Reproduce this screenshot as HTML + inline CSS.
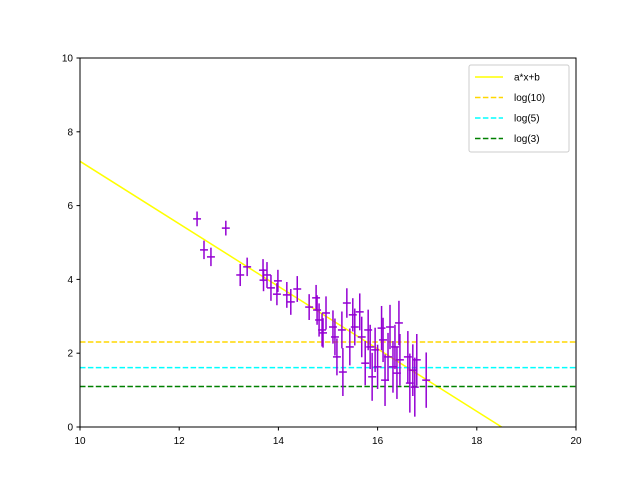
<!DOCTYPE html>
<html><head><meta charset="utf-8"><style>
body{margin:0;background:#fff;}
svg{display:block;font-family:"Liberation Sans","DejaVu Sans",sans-serif;}
</style></head><body>
<svg id="chart" width="640" height="480">
<rect width="640" height="480" fill="#fff"/>
<g id="plot"></g>
</svg>
<script>
const xs=[12.36,12.94,12.5,12.64,13.23,13.37,13.69,13.7,13.77,13.85,13.99,13.97,14.17,14.25,14.38,14.62,14.76,14.78,14.82,14.88,14.9,14.96,15.1,15.14,15.18,15.28,15.3,15.38,15.44,15.5,15.54,15.64,15.68,15.75,15.81,15.85,15.89,15.95,16.0,16.08,16.11,16.15,16.21,16.25,16.31,16.35,16.39,16.43,16.45,16.61,16.65,16.71,16.75,16.79,16.98];
const ys=[5.64,5.39,4.8,4.61,4.12,4.34,4.25,3.98,4.12,3.77,3.96,3.6,3.58,3.39,3.74,3.25,3.5,3.17,2.9,2.63,2.55,3.09,2.71,2.44,1.9,2.63,1.49,3.36,2.17,3.04,2.71,3.12,2.44,1.73,2.63,2.17,1.36,2.09,1.63,2.68,2.36,1.27,1.9,2.71,1.63,2.17,1.46,2.82,1.82,1.9,1.19,1.54,1.08,1.82,1.27];
const yerr=[0.2,0.2,0.25,0.25,0.3,0.25,0.3,0.3,0.35,0.35,0.3,0.3,0.35,0.35,0.35,0.35,0.35,0.4,0.45,0.45,0.4,0.45,0.45,0.5,0.5,0.5,0.65,0.4,0.5,0.45,0.5,0.5,0.55,0.6,0.55,0.6,0.65,0.6,0.6,0.6,0.6,0.7,0.65,0.6,0.7,0.6,0.7,0.6,0.7,0.7,0.8,0.7,0.8,0.7,0.75];
const xerr=0.08;
const a=-0.847, b=15.67;
const hLabels=["log(10)","log(5)","log(3)"];
const hVals=[Math.log(10),Math.log(5),Math.log(3)];
const hColors=["#ffd700","#00ffff","#008000"];
const xTicks=[10,12,14,16,18,20];
const yTicks=[0,2,4,6,8,10];
const L=80,R=576,T=58,B=427;
const X=v=>L+(v-10)/10*(R-L);
const Y=v=>B-(v/10)*(B-T);
const NS="http://www.w3.org/2000/svg";
const g=document.getElementById('plot');
function mk(t,at,p){const e=document.createElementNS(NS,t);for(const k in at)e.setAttribute(k,at[k]);(p||g).appendChild(e);return e;}
const clip=mk('clipPath',{id:'c'});mk('rect',{x:L,y:T,width:R-L,height:B-T},clip);
// fit line
let x0=10,x1=20;
let ln=mk('line',{x1:X(x0),y1:Y(a*x0+b),x2:X(x1),y2:Y(a*x1+b),stroke:'#ffff00','stroke-width':1.5,'clip-path':'url(#c)'});


hVals.forEach((v,i)=>{
 const h=mk('line',{x1:L,x2:R,y1:Y(v),y2:Y(v),stroke:hColors[i],'stroke-width':1.5,'stroke-dasharray':'5.5,2.4'});
 
 
});
xs.forEach((x,i)=>{
 const e=mk('g',{stroke:'#9400d3','stroke-width':1.5});
 
 
 mk('line',{x1:X(x),x2:X(x),y1:Y(ys[i]-yerr[i]),y2:Y(ys[i]+yerr[i])},e);
 mk('line',{x1:X(x-xerr),x2:X(x+xerr),y1:Y(ys[i]),y2:Y(ys[i])},e);
});
const fr=mk('rect',{x:L,y:T,width:R-L,height:B-T,fill:'none',stroke:'#000','stroke-width':1});


xTicks.forEach(t=>{
 mk('line',{x1:X(t),x2:X(t),y1:B,y2:B+3.5,stroke:'#000'});
 const tx=mk('text',{x:X(t),y:B+17,'text-anchor':'middle','font-size':10});tx.textContent=t;
 
 
});
yTicks.forEach(t=>{
 mk('line',{x1:L-3.5,x2:L,y1:Y(t),y2:Y(t),stroke:'#000'});
 const tx=mk('text',{x:L-7,y:Y(t)+3.5,'text-anchor':'end','font-size':10});tx.textContent=t;
 
 
});
// legend
const lg=mk('g',{});


mk('rect',{x:469,y:65,width:100,height:87,rx:2,fill:'#fff',stroke:'#ccc'},lg);
const labs=["a*x+b"].concat(hLabels), cols=["#ffff00"].concat(hColors);
labs.forEach((l,i)=>{
 const yy=77+i*20.5;
 mk('line',{x1:475,x2:503,y1:yy,y2:yy,stroke:cols[i],'stroke-width':1.5,'stroke-dasharray':i?'5.5,2.4':'none'},lg);
 const t=mk('text',{x:514,y:yy+3.5,'font-size':10},lg);t.textContent=l;
 
 
});
</script>
</body></html>
